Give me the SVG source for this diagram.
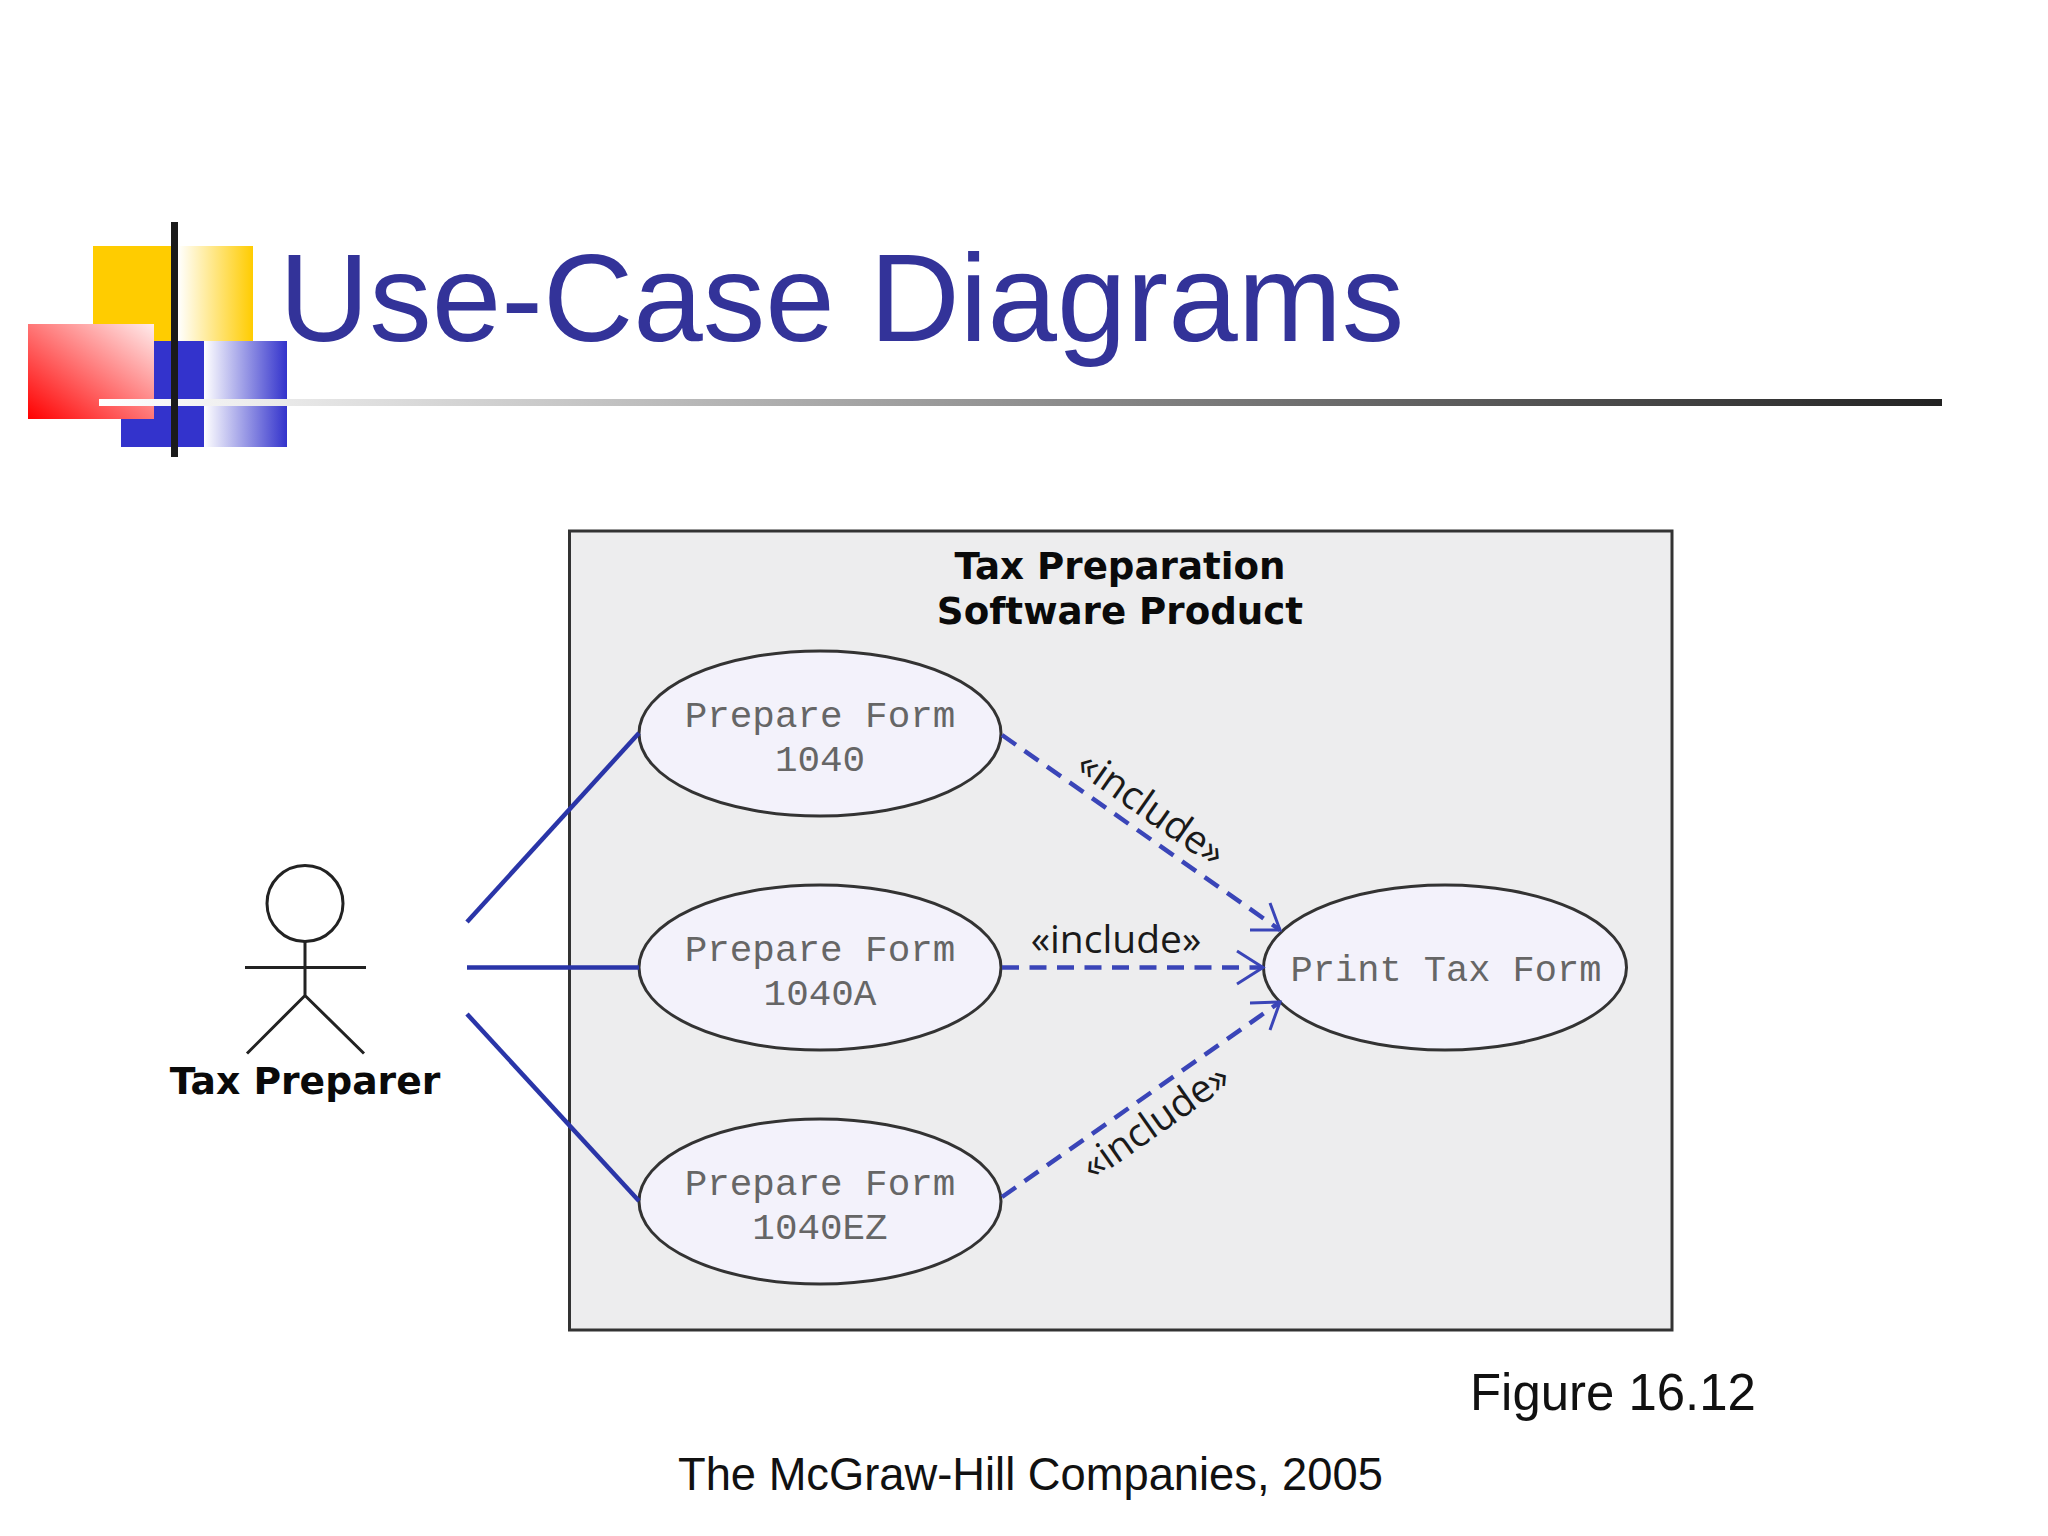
<svg xmlns="http://www.w3.org/2000/svg" width="2048" height="1536" viewBox="0 0 2048 1536">
<defs>
<linearGradient id="gy" x1="0" x2="1" y1="0" y2="0"><stop offset="0" stop-color="#fff"/><stop offset="1" stop-color="#ffcc00"/></linearGradient>
<linearGradient id="gb" x1="0" x2="1" y1="0" y2="0"><stop offset="0" stop-color="#fff"/><stop offset="1" stop-color="#3333cc"/></linearGradient>
<linearGradient id="gr" x1="0" x2="1" y1="1" y2="0"><stop offset="0" stop-color="#ff0000"/><stop offset="1" stop-color="#ffecec"/></linearGradient>
<linearGradient id="gl" gradientUnits="userSpaceOnUse" x1="99" x2="1942" y1="0" y2="0"><stop offset="0" stop-color="#fff"/><stop offset="1" stop-color="#222"/></linearGradient>
</defs>
<style>
.title{font:125px "Liberation Sans",Arial,sans-serif;fill:#333399}
.box{fill:#ededee;stroke:#333;stroke-width:3}
.uc{fill:#f3f2fb;stroke:#333;stroke-width:3}
.mono{font:37.6px "Liberation Mono","Courier New",monospace;fill:#666;text-anchor:middle}
.bold{font:bold 37.2px "DejaVu Sans",Verdana,sans-serif;fill:#0a0a0a;text-anchor:middle}
.inc{font:39px "Open Sans","Noto Sans",sans-serif;fill:#1a1a1a;text-anchor:middle}
.foot{font:45.300px "Liberation Sans",Arial,sans-serif;fill:#111}
.assoc{stroke:#2a35a8;stroke-width:4.500;fill:none}
.dep{stroke:#3a45b8;stroke-width:4.500;stroke-dasharray:17 10.5;fill:none}
.stick{stroke:#222;stroke-width:3;fill:none}
</style>
<rect width="2048" height="1536" fill="#fff"/>
<g id="logo">
<rect x="93" y="246" width="78" height="95" fill="#ffcc00"/>
<rect x="178" y="246" width="75" height="95" fill="url(#gy)"/>
<rect x="121" y="341" width="83" height="106" fill="#3333cc"/>
<rect x="204" y="341" width="83" height="106" fill="url(#gb)"/>
<rect x="28" y="324" width="126" height="95" fill="url(#gr)"/>
<rect x="99" y="399" width="1843" height="7" fill="url(#gl)"/>
<rect x="171" y="222" width="7" height="235" fill="#1a1a1a"/>
</g>
<text class="title" x="279" y="341">Use-Case Diagrams</text>
<g id="system">
<rect class="box" x="569.5" y="531" width="1102.500" height="799"/>
<text class="bold" x="1120" y="579">Tax Preparation</text>
<text class="bold" x="1120" y="624">Software Product</text>
</g>
<g id="actor">
<circle class="stick" cx="305" cy="903.500" r="38"/>
<path class="stick" d="M305 941.500V995.500M245 967.500H366M247 1053.500L305 995.500L364 1053.500"/>
<text class="bold" x="305" y="1094" style="font-size:37.700px">Tax Preparer</text>
</g>
<g id="uc1040">
<ellipse class="uc" cx="820" cy="733.500" rx="181" ry="82.500"/>
<text class="mono" x="820" y="727">Prepare Form</text>
<text class="mono" x="820" y="771">1040</text>
</g>
<g id="uc1040a">
<ellipse class="uc" cx="820" cy="967.500" rx="181" ry="82.500"/>
<text class="mono" x="820" y="961">Prepare Form</text>
<text class="mono" x="820" y="1005">1040A</text>
</g>
<g id="uc1040ez">
<ellipse class="uc" cx="820" cy="1201.500" rx="181" ry="82.500"/>
<text class="mono" x="820" y="1195">Prepare Form</text>
<text class="mono" x="820" y="1239">1040EZ</text>
</g>
<g id="ucprint">
<ellipse class="uc" cx="1445" cy="967.500" rx="181.500" ry="82.500"/>
<text class="mono" x="1446" y="981" style="font-size:37px">Print Tax Form</text>
</g>
<g id="connectors">
<path class="assoc" d="M467 922L639 733"/>
<path class="assoc" d="M467 967.500H639"/>
<path class="assoc" d="M467 1014L639 1201"/>
<path class="dep" d="M1002 735L1280 930"/>
<path class="dep" d="M1002 967.500H1263"/>
<path class="dep" d="M1002 1197L1280 1002"/>
<path fill="none" stroke="#3a45b8" stroke-width="3" d="M1270 903L1280 930L1250 930M1237 951L1263 967.500L1237 984M1250 1003L1280 1002L1270 1030"/>
<text class="inc" transform="translate(1144 819) rotate(35)">«include»</text>
<text class="inc" x="1116" y="953">«include»</text>
<text class="inc" transform="translate(1163 1132) rotate(-35)">«include»</text>
</g>
<text class="foot" x="1470" y="1410" style="font-size:50.900px">Figure 16.12</text>
<text class="foot" x="678" y="1490">The McGraw-Hill Companies, 2005</text>
</svg>
